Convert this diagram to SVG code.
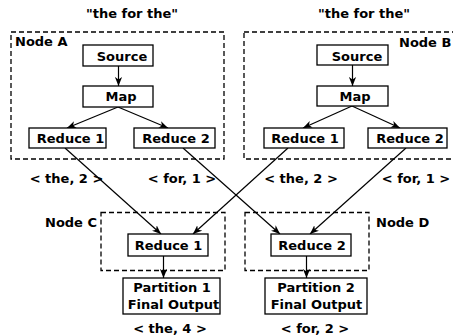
<svg xmlns="http://www.w3.org/2000/svg" width="453" height="336" viewBox="0 0 453 336">
<style>
text{font-family:"DejaVu Sans","Liberation Sans",sans-serif;font-weight:bold;font-size:13px;fill:#000}
.c{text-anchor:middle}
.box{fill:#fff;stroke:#000;stroke-width:1.3}
.grp{fill:none;stroke:#000;stroke-width:1.3;stroke-dasharray:5,3}
.ln{fill:none;stroke:#000;stroke-width:1.2;marker-end:url(#ah)}
</style>
<defs>
<marker id="ah" viewBox="-9 -4 10 8" refX="0" refY="0" markerWidth="10" markerHeight="8" markerUnits="userSpaceOnUse" orient="auto">
<path d="M0,0 L-9,-3.6 L-6.5,0 L-9,3.6 Z" fill="#000"/>
</marker>
</defs>
<rect width="453" height="336" fill="#fff"/>
<text class="c" x="132" y="18">"the for the"</text>
<text class="c" x="364" y="18">"the for the"</text>
<g id="nodeA">
<rect class="grp" x="11" y="32" width="213" height="127"/>
<text x="15" y="46">Node A</text>
</g>
<g id="nodeB">
<rect class="grp" x="244" y="32" width="220" height="127"/>
<text x="399" y="47">Node B</text>
</g>
<g id="nodeC">
<rect class="grp" x="101" y="212.5" width="124" height="58"/>
<text x="97" y="227" text-anchor="end">Node C</text>
</g>
<g id="nodeD">
<rect class="grp" x="245" y="212.5" width="124" height="58"/>
<text x="376" y="227">Node D</text>
</g>
<g id="connectors">
<line class="ln" x1="118.5" y1="66" x2="118.5" y2="86"/>
<line class="ln" x1="118" y1="107" x2="67" y2="128"/>
<line class="ln" x1="118" y1="107" x2="168" y2="128"/>
<line class="ln" x1="352.5" y1="65" x2="352.5" y2="86"/>
<line class="ln" x1="352" y1="106" x2="303" y2="128"/>
<line class="ln" x1="352" y1="106" x2="400" y2="128"/>
<line class="ln" x1="65" y1="148" x2="161" y2="234"/>
<line class="ln" x1="183" y1="148" x2="280" y2="234"/>
<line class="ln" x1="288" y1="148" x2="193" y2="234"/>
<line class="ln" x1="406" y1="148" x2="310" y2="234"/>
<line class="ln" x1="163.5" y1="256" x2="163.5" y2="278"/>
<line class="ln" x1="306.5" y1="256" x2="306.5" y2="278"/>
</g>
<g id="a-source"><rect class="box" x="83" y="45" width="70" height="21"/><text class="c" x="122" y="61">Source</text></g>
<g id="a-map"><rect class="box" x="83" y="86" width="70" height="21"/><text class="c" x="121" y="101">Map</text></g>
<g id="a-reduce1"><rect class="box" x="29" y="128" width="77" height="20"/><text class="c" x="70.5" y="143">Reduce 1</text></g>
<g id="a-reduce2"><rect class="box" x="134" y="128" width="81" height="20"/><text class="c" x="176" y="143">Reduce 2</text></g>
<g id="b-source"><rect class="box" x="317" y="45" width="71" height="20"/><text class="c" x="357" y="60.5">Source</text></g>
<g id="b-map"><rect class="box" x="317" y="86" width="71" height="20"/><text class="c" x="355" y="101">Map</text></g>
<g id="b-reduce1"><rect class="box" x="264" y="128" width="80" height="20"/><text class="c" x="305" y="143">Reduce 1</text></g>
<g id="b-reduce2"><rect class="box" x="368" y="128" width="79" height="20"/><text class="c" x="410" y="143">Reduce 2</text></g>
<g id="c-reduce1"><rect class="box" x="128" y="234" width="80" height="22"/><text class="c" x="168.5" y="250">Reduce 1</text></g>
<g id="d-reduce2"><rect class="box" x="271" y="234" width="80" height="22"/><text class="c" x="312" y="250">Reduce 2</text></g>
<g id="partition1"><rect class="box" x="123" y="278" width="97" height="36"/><text class="c" x="172" y="292">Partition 1</text><text class="c" x="173.5" y="309">Final Output</text></g>
<g id="partition2"><rect class="box" x="265" y="278" width="102" height="36"/><text class="c" x="316" y="292">Partition 2</text><text class="c" x="316.5" y="309">Final Output</text></g>
<text class="c" x="66.5" y="183">&lt; the, 2 &gt;</text>
<text class="c" x="182" y="183">&lt; for, 1 &gt;</text>
<text class="c" x="301" y="183">&lt; the, 2 &gt;</text>
<text class="c" x="416" y="183">&lt; for, 1 &gt;</text>
<text class="c" x="170" y="333">&lt; the, 4 &gt;</text>
<text class="c" x="315" y="333">&lt; for, 2 &gt;</text>
</svg>
